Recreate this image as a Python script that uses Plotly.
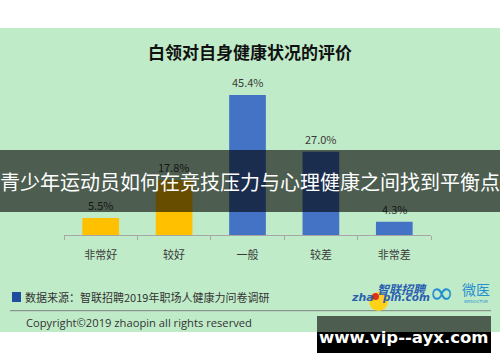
import plotly.graph_objects as go

categories = ["非常好", "较好", "一般", "较差", "非常差"]
values = [5.5, 17.8, 45.4, 27.0, 4.3]
labels = ["5.5%", "17.8%", "45.4%", "27.0%", "4.3%"]
colors = ["#FFC000", "#FFC000", "#4472C4", "#4472C4", "#4472C4"]

title = "白领对自身健康状况的评价"
banner = "青少年运动员如何在竞技压力与心理健康之间找到平衡点"
source = "数据来源：智联招聘2019年职场人健康力问卷调研"
copyright_txt = "Copyright©2019 zhaopin all rights reserved"
watermark = "www.vip--ayx.com"

W, H = 500, 362
def px(x):
    return x / W
def py(y):
    return 1 - y / H

CJK = "Noto Sans CJK SC"
TXT = "#3A3A3A"

fig = go.Figure()
fig.add_trace(go.Bar(
    x=categories, y=values, marker=dict(color=colors, line=dict(width=0)),
    width=0.5, cliponaxis=False, hoverinfo="skip",
))

shapes = [
    dict(type="rect", xref="paper", yref="paper", x0=0, x1=1, y0=py(332), y1=py(28),
         fillcolor="#C0EBC8", line=dict(width=0), layer="below"),
    dict(type="rect", xref="paper", yref="paper", x0=px(12), x1=px(21), y0=py(302), y1=py(292),
         fillcolor="#1F4E9E", line=dict(width=0), layer="above"),
    dict(type="line", xref="paper", yref="paper", x0=px(10), x1=px(491), y0=py(310.7), y1=py(310.7),
         line=dict(color="#7F7F7F", width=1), layer="above"),
    dict(type="circle", xref="paper", yref="paper", x0=px(369), x1=px(388), y0=py(311), y1=py(292),
         fillcolor="#FFD21A", line=dict(width=0), layer="above"),
    dict(type="circle", xref="paper", yref="paper", x0=px(372), x1=px(379), y0=py(300), y1=py(293),
         fillcolor="#E03020", line=dict(width=0), layer="above"),
    dict(type="rect", xref="paper", yref="paper", x0=px(317), x1=px(491), y0=py(332), y1=py(316),
         fillcolor="rgba(0,0,0,0.6)", line=dict(width=0), layer="above"),
    dict(type="rect", xref="paper", yref="paper", x0=px(317), x1=px(491), y0=py(353), y1=py(332),
         fillcolor="#000000", line=dict(width=0), layer="above"),
]

annotations = []
for c, v, t in zip(categories, values, labels):
    annotations.append(dict(text=t, x=c, y=v, xref="x", yref="y", showarrow=False,
                            yanchor="middle", xanchor="center", yshift=13,
                            font=dict(family=CJK, size=11, color=TXT)))

annotations += [
    dict(text=f"<b>{title}</b>", x=px(250), y=py(52), xref="paper", yref="paper",
         showarrow=False, font=dict(family=CJK, size=17, color="#111111"), xanchor="center", yanchor="middle"),
    dict(text=banner, x=0.5, y=py(181), xref="paper", yref="paper", width=500, height=62,
         bgcolor="rgba(0,0,0,0.6)", borderpad=0, borderwidth=0,
         showarrow=False, font=dict(family=CJK, size=20, color="#FFFFFF"), xanchor="center", yanchor="middle"),
    dict(text=source, x=px(23), y=py(297), xref="paper", yref="paper",
         showarrow=False, font=dict(family=CJK, size=11, color="#333333"), xanchor="left", yanchor="middle"),
    dict(text=copyright_txt, x=px(24), y=py(322), xref="paper", yref="paper",
         showarrow=False, font=dict(family="Open Sans", size=11.2, color="#333333"), xanchor="left", yanchor="middle"),
    dict(text="<b><i>zha</i></b>", x=px(349), y=py(297), xref="paper", yref="paper",
         showarrow=False, font=dict(family="DejaVu Sans", size=11, color="#2B5FB0"), xanchor="left", yanchor="middle"),
    dict(text="<b><i>pin.com</i></b>", x=px(380), y=py(297), xref="paper", yref="paper",
         showarrow=False, font=dict(family="DejaVu Sans", size=10.5, color="#2B5FB0"), xanchor="left", yanchor="middle"),
    dict(text="<b><i>智联招聘</i></b>", x=px(402), y=py(288), xref="paper", yref="paper",
         showarrow=False, font=dict(family=CJK, size=12, color="#2B5FB0"), xanchor="center", yanchor="middle"),
    dict(text="∞", x=px(441), y=py(292), xref="paper", yref="paper",
         showarrow=False, font=dict(family="DejaVu Sans", size=30, color="#1E8FD0"), xanchor="center", yanchor="middle"),
    dict(text="微医", x=px(476), y=py(289), xref="paper", yref="paper",
         showarrow=False, font=dict(family=CJK, size=14, color="#2A8FD0"), xanchor="center", yanchor="middle"),
    dict(text="WEDOCTOR", x=px(476), y=py(301), xref="paper", yref="paper",
         showarrow=False, font=dict(family="DejaVu Sans", size=4, color="#2A8FD0"), xanchor="center", yanchor="middle"),
    dict(text=f"<b>{watermark}</b>", x=px(403), y=py(337), xref="paper", yref="paper",
         showarrow=False, font=dict(family="DejaVu Sans", size=16.5, color="#FFFFFF"), xanchor="center", yanchor="middle"),
]

fig.update_layout(
    width=W, height=H, margin=dict(l=0, r=0, t=0, b=0),
    paper_bgcolor="#FFFFFF", plot_bgcolor="rgba(0,0,0,0)",
    showlegend=False, shapes=shapes, annotations=annotations,
    xaxis=dict(domain=[px(64), px(431)], type="category", range=[-0.5, 4.5],
               showline=True, linecolor="#A6A6A6", linewidth=1,
               ticks="outside", tickson="boundaries", ticklen=4, tickcolor="#A6A6A6",
               ticklabelstandoff=10,
               tickfont=dict(family=CJK, size=11, color=TXT), showgrid=False, fixedrange=True),
    yaxis=dict(domain=[py(235), py(28)], range=[0, 67.13], visible=False, showgrid=False, fixedrange=True),
    bargap=0.5,
)

fig.write_html("out.html", config={"displayModeBar": False},
               post_script="document.body.style.margin='0';document.body.style.overflow='hidden';")
